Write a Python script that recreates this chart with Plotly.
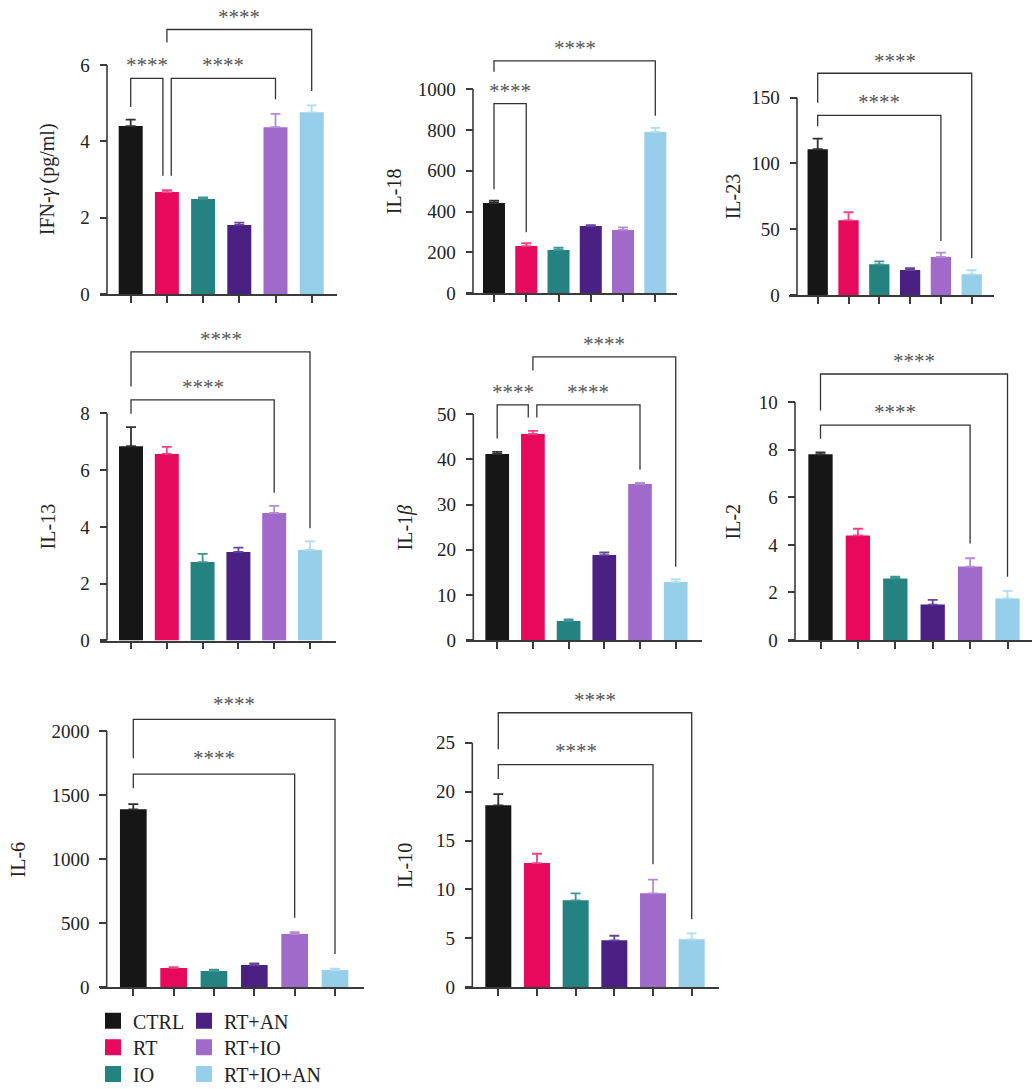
import plotly.graph_objects as go

# ---------------------------------------------------------------- data
GROUPS = ["CTRL", "RT", "IO", "RT+AN", "RT+IO", "RT+IO+AN"]

ifng_mean = [4.40, 2.67, 2.49, 1.81, 4.37, 4.76]
ifng_sem = [0.17, 0.05, 0.04, 0.06, 0.35, 0.18]

il18_mean = [442, 231, 212, 329, 310, 790]
il18_sem = [11, 14, 11, 4, 13, 20]

il23_mean = [110.8, 56.8, 23.3, 19.0, 28.9, 15.7]
il23_sem = [8.1, 6.1, 2.3, 1.5, 3.3, 3.1]

il13_mean = [6.84, 6.57, 2.76, 3.12, 4.49, 3.19]
il13_sem = [0.67, 0.25, 0.29, 0.15, 0.25, 0.30]

il1b_mean = [41.16, 45.58, 4.25, 18.84, 34.53, 12.87]
il1b_sem = [0.45, 0.70, 0.35, 0.56, 0.22, 0.60]

il2_mean = [7.81, 4.40, 2.59, 1.49, 3.09, 1.75]
il2_sem = [0.08, 0.28, 0.07, 0.20, 0.35, 0.32]

il6_mean = [1389, 151, 127, 174, 416, 135]
il6_sem = [41, 7, 10, 13, 15, 10]

il10_mean = [18.6, 12.7, 8.89, 4.80, 9.60, 4.90]
il10_sem = [1.15, 0.95, 0.71, 0.47, 1.40, 0.62]

ifng_ticks = [0, 2, 4, 6]
il18_ticks = [0, 200, 400, 600, 800, 1000]
il23_ticks = [0, 50, 100, 150]
il13_ticks = [0, 2, 4, 6, 8]
il1b_ticks = [0, 10, 20, 30, 40, 50]
il2_ticks = [0, 2, 4, 6, 8, 10]
il6_ticks = [0, 500, 1000, 1500, 2000]
il10_ticks = [0, 5, 10, 15, 20, 25]

# ---------------------------------------------------------------- styles
BAR_COLORS = ["#161616", "#e6095c", "#248281", "#4a2182", "#a06acb", "#97cfea"]
ERR_COLORS = ["#303030", "#ee4488", "#3d9695", "#66449e", "#b58bd9", "#aedcf0"]
AX = "#3a3a3a"
FONT = "Liberation Serif, Times New Roman, serif"
W, H = 1033, 1089

# significance brackets: (left bar, right bar, bracket level, left leg end,
# right leg end, label level, left nudge, right nudge) in data units
ifng_brackets = [
    (0, 1, 5.65, 4.90, 3.10, 6.10, 0.0, -0.11),
    (1, 4, 5.65, 3.10, 5.10, 6.10, 0.12, 0.0),
    (1, 5, 6.93, 6.59, 5.32, 7.37, 0.0, 0.0),
]
il18_brackets = [
    (0, 1, 928, 509, 299, 1011, 0.0, 0.0),
    (0, 5, 1138, 1085, 869, 1220, 0.0, 0.0),
]
il23_brackets = [
    (0, 4, 136.6, 128.3, 41.1, 150, 0.0, 0.0),
    (0, 5, 168.6, 146.2, 27.9, 181, 0.0, 0.0),
]
il13_brackets = [
    (0, 4, 8.47, 7.98, 5.20, 9.08, 0.0, 0.0),
    (0, 5, 10.16, 8.94, 3.95, 10.76, 0.0, 0.0),
]
il1b_brackets = [
    (0, 1, 52.0, 44.6, 49.2, 55.8, 0.0, -0.13),
    (1, 4, 52.0, 49.2, 37.7, 55.8, 0.11, 0.0),
    (1, 5, 62.6, 59.6, 16.25, 66.35, 0.0, 0.0),
]
il2_brackets = [
    (0, 4, 9.04, 8.47, 4.06, 9.75, 0.0, 0.0),
    (0, 5, 11.19, 9.65, 2.66, 11.92, 0.0, 0.0),
]
il6_brackets = [
    (0, 4, 1664, 1553, 543, 1820, 0.0, 0.0),
    (0, 5, 2091, 1787, 260, 2242, 0.0, 0.0),
]
il10_brackets = [
    (0, 4, 22.75, 21.29, 12.57, 24.6, 0.0, 0.0),
    (0, 5, 28.06, 24.32, 6.95, 29.77, 0.0, 0.0),
]

panels = [
    dict(title="IFN-<i>γ</i> (pg/ml)", mean=ifng_mean, sem=ifng_sem, ticks=ifng_ticks, brackets=ifng_brackets),
    dict(title="IL-18", mean=il18_mean, sem=il18_sem, ticks=il18_ticks, brackets=il18_brackets),
    dict(title="IL-23", mean=il23_mean, sem=il23_sem, ticks=il23_ticks, brackets=il23_brackets),
    dict(title="IL-13", mean=il13_mean, sem=il13_sem, ticks=il13_ticks, brackets=il13_brackets),
    dict(title="IL-1<i>β</i>", mean=il1b_mean, sem=il1b_sem, ticks=il1b_ticks, brackets=il1b_brackets),
    dict(title="IL-2", mean=il2_mean, sem=il2_sem, ticks=il2_ticks, brackets=il2_brackets),
    dict(title="IL-6", mean=il6_mean, sem=il6_sem, ticks=il6_ticks, brackets=il6_brackets),
    dict(title="IL-10", mean=il10_mean, sem=il10_sem, ticks=il10_ticks, brackets=il10_brackets),
]

# panel frames in page pixels: first bar centre, bar spacing, bar width,
# x-axis line extent, y-axis line x, baseline y, top-tick y, title x
frames = [
    dict(c0=130.7, step=36.2, barw=24.0, xline=(99.5, 337.3), yax=107.0, y0=294.0, ytick=65.0, tx=47.7),
    dict(c0=494.0, step=32.26, barw=22.0, xline=(465.6, 676.8), yax=473.0, y0=293.3, ytick=89.0, tx=394.0),
    dict(c0=817.7, step=30.8, barw=20.3, xline=(788.5, 993.5), yax=797.0, y0=295.0, ytick=97.7, tx=733.0),
    dict(c0=131.0, step=35.8, barw=24.0, xline=(99.8, 335.5), yax=107.0, y0=640.5, ytick=413.3, tx=47.5),
    dict(c0=497.2, step=35.7, barw=23.7, xline=(466.0, 701.6), yax=473.3, y0=640.3, ytick=414.0, tx=405.3),
    dict(c0=820.5, step=37.4, barw=24.3, xline=(787.5, 1032.0), yax=795.0, y0=640.0, ytick=402.3, tx=733.3),
    dict(c0=133.3, step=40.34, barw=26.7, xline=(99.7, 364.0), yax=106.7, y0=987.3, ytick=731.0, tx=18.3),
    dict(c0=498.3, step=38.68, barw=26.0, xline=(464.7, 719.3), yax=472.3, y0=987.3, ytick=742.7, tx=405.3),
]

fig = go.Figure()
layout = dict(
    width=W, height=H,
    margin=dict(l=0, r=0, t=0, b=0, autoexpand=False),
    paper_bgcolor="white", plot_bgcolor="white",
    barmode="overlay",
    font=dict(family=FONT, color="#222222"),
    showlegend=True,
)
shapes, annotations = [], []

for n, (p, f) in enumerate(zip(panels, frames), start=1):
    xs = "" if n == 1 else str(n)
    xref, yref = "x" + xs, "y" + xs
    step, c0 = f["step"], f["c0"]
    top_tick = p["ticks"][-1]
    k = (f["y0"] - f["ytick"]) / top_tick          # pixels per data unit
    x_lo = (f["xline"][0] - c0) / step
    x_hi = (f["xline"][1] - c0) / step
    highest_label = max(b[5] for b in p["brackets"])
    top_px = f["y0"] - highest_label * k - 10       # leave room for the star labels
    y_hi = (f["y0"] - top_px) / k
    x_yline = (f["yax"] - c0) / step

    for i, g in enumerate(GROUPS):
        fig.add_trace(go.Bar(
            x=[i], y=[p["mean"][i]], width=f["barw"] / step,
            marker=dict(color=BAR_COLORS[i], line=dict(width=0)),
            error_y=dict(type="data", symmetric=False, array=[p["sem"][i]], arrayminus=[0],
                         color=ERR_COLORS[i], thickness=1.8, width=5),
            name=g, showlegend=False, hoverinfo="skip",
            xaxis=xref, yaxis=yref,
        ))

    layout["xaxis" + xs] = dict(
        domain=[f["xline"][0] / W, f["xline"][1] / W], range=[x_lo, x_hi],
        anchor=yref, tickvals=list(range(len(GROUPS))), showticklabels=False,
        ticks="outside", ticklen=7, tickwidth=1.5, tickcolor=AX,
        showline=True, linewidth=1.6, linecolor=AX,
        showgrid=False, zeroline=False, fixedrange=True,
    )
    layout["yaxis" + xs] = dict(
        domain=[1 - f["y0"] / H, 1 - top_px / H], range=[0, y_hi],
        anchor="free", position=f["yax"] / W,
        tickvals=p["ticks"], ticks="outside", ticklen=7.5, tickwidth=1.5, tickcolor=AX,
        tickfont=dict(family=FONT, size=19, color="#222222"), ticklabelstandoff=6,
        showline=False, showgrid=False, zeroline=False, fixedrange=True,
    )
    # visible y-axis line, from 0 to the last tick
    shapes.append(dict(type="line", xref=xref, yref=yref, x0=x_yline, x1=x_yline,
                       y0=0, y1=top_tick, line=dict(color=AX, width=1.6)))
    # axis title centred on the ticked span
    annotations.append(dict(text=p["title"], xref="paper", yref=yref, x=f["tx"] / W,
                            y=top_tick / 2, textangle=-90, showarrow=False,
                            xanchor="center", yanchor="middle",
                            font=dict(family=FONT, size=20, color="#222222")))
    # significance brackets
    for (a, b, lvl, la, lb, ly, da, db) in p["brackets"]:
        xa_, xb_ = a + da, b + db
        shapes.append(dict(type="path", xref=xref, yref=yref,
                           path=f"M {xa_},{la} L {xa_},{lvl} L {xb_},{lvl} L {xb_},{lb}",
                           line=dict(color="#333333", width=1.3)))
        annotations.append(dict(text="****", xref=xref, yref=yref, x=(xa_ + xb_) / 2, y=ly,
                                showarrow=False, xanchor="center", yanchor="middle", yshift=-4,
                                font=dict(family=FONT, size=21, color="#555555")))

# legend: two columns of three entries, one legend box per entry
LEGEND_COLS = [113, 204]        # symbol centre x (px)
LEGEND_ROWS = [1020.7, 1047.3, 1074.0]   # row centre y (px)
for i, g in enumerate(GROUPS):
    lid = "legend" if i == 0 else f"legend{i + 1}"
    fig.add_trace(go.Scatter(
        x=[None], y=[None], mode="markers", name=g,
        marker=dict(symbol="square", size=16, color=BAR_COLORS[i], line=dict(width=0)),
        legend=lid, showlegend=True, xaxis="x", yaxis="y", hoverinfo="skip",
    ))
    layout[lid] = dict(
        x=(LEGEND_COLS[i // 3] - 20) / W, y=1 - LEGEND_ROWS[i % 3] / H,
        xanchor="left", yanchor="middle", bgcolor="rgba(0,0,0,0)",
        font=dict(family=FONT, size=20, color="#222222"),
        itemwidth=30, borderwidth=0,
    )

layout["shapes"] = shapes
layout["annotations"] = annotations
fig.update_layout(**layout)

fig.write_html("out.html")
